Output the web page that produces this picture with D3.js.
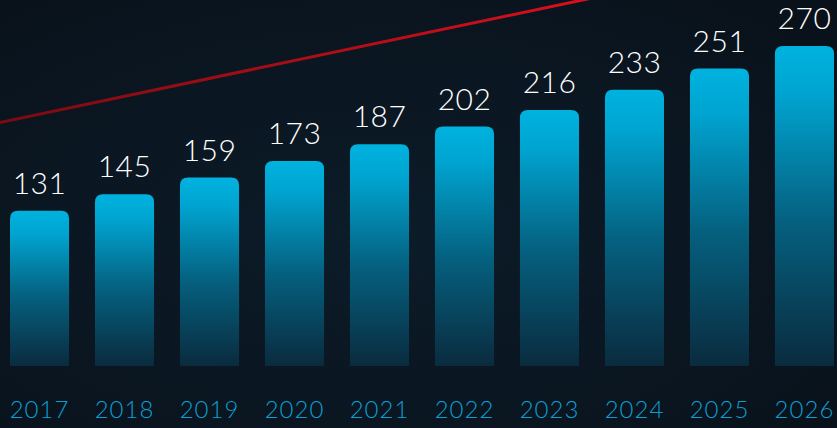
<!DOCTYPE html>
<html>
<head>
<meta charset="utf-8">
<script src="https://cdn.jsdelivr.net/npm/d3@7"></script>
<style>
  html, body { margin: 0; padding: 0; background: #0a141e; }
  svg { display: block; }
</style>
</head>
<body>
<svg id="chart" width="837" height="428"></svg>
<script>
// Data
const years = ["2017", "2018", "2019", "2020", "2021", "2022", "2023", "2024", "2025", "2026"];
const values = [131, 145, 159, 173, 187, 202, 216, 233, 251, 270];
// decorative red trend line, in value units at given year index
const trendIdx = [-0.5, 7.0];
const trendVal = [205, 318];

const width = 837, height = 428;
const svg = d3.select("#chart");

const defs = svg.append("defs");

// background glow
const bg = defs.append("radialGradient").attr("id", "bg")
    .attr("cx", "0.45").attr("cy", "0.55").attr("r", "0.7");
bg.append("stop").attr("offset", "0%").attr("stop-color", "#0c1c29");
bg.append("stop").attr("offset", "100%").attr("stop-color", "#09121b");
svg.append("rect").attr("width", width).attr("height", height).attr("fill", "url(#bg)");

// bar gradient
const grad = defs.append("linearGradient").attr("id", "barGrad")
    .attr("x1", 0).attr("y1", 0).attr("x2", 0).attr("y2", 1);
grad.append("stop").attr("offset", "0%").attr("stop-color", "#00b2df");
grad.append("stop").attr("offset", "15%").attr("stop-color", "#00a4d0");
grad.append("stop").attr("offset", "55%").attr("stop-color", "#05607f");
grad.append("stop").attr("offset", "100%").attr("stop-color", "#0a2b3e");

// red line gradient
const rg = defs.append("linearGradient").attr("id", "redGrad")
    .attr("x1", 0).attr("y1", 0).attr("x2", 1).attr("y2", 0);
rg.append("stop").attr("offset", "0%").attr("stop-color", "#7a0a12");
rg.append("stop").attr("offset", "100%").attr("stop-color", "#e0101c");

// Scales
const x = d3.scaleBand()
    .domain(years)
    .range([10, 834])
    .paddingInner(0.305)
    .paddingOuter(0.0);

const y = d3.scaleLinear()
    .domain([0, 270])
    .range([366, 46]);

const xIdx = i => x(years[0]) + x.step() * i + x.bandwidth() / 2;

// Red trend line
svg.append("path")
    .attr("d", d3.line()([
        [xIdx(trendIdx[0]), y(trendVal[0])],
        [xIdx(trendIdx[1]), y(trendVal[1])]
    ]))
    .attr("fill", "none")
    .attr("stroke", "url(#redGrad)")
    .attr("stroke-width", 3);

// Bars: rounded top corners, square bottom
const r = 8;
function barPath(x0, y0, w, y1) {
    return `M${x0},${y1}V${y0 + r}Q${x0},${y0} ${x0 + r},${y0}H${x0 + w - r}Q${x0 + w},${y0} ${x0 + w},${y0 + r}V${y1}Z`;
}

svg.append("g")
    .selectAll("path")
    .data(values)
    .join("path")
    .attr("d", (d, i) => barPath(x(years[i]), y(d), x.bandwidth(), y(0)))
    .attr("fill", "url(#barGrad)");

// Value labels
svg.append("g")
    .selectAll("text")
    .data(values)
    .join("text")
    .attr("x", (d, i) => x(years[i]) + x.bandwidth() / 2)
    .attr("y", d => y(d) - 17)
    .attr("text-anchor", "middle")
    .attr("fill", "#ffffff")
    .attr("font-family", "Lato, 'Open Sans', sans-serif")
    .attr("font-weight", 300)
    .attr("font-size", "30px")
    .attr("letter-spacing", "0.5px")
    .text(d => d);

// Year axis labels
const xAxis = d3.axisBottom(x).tickSize(0).tickPadding(0);
const ax = svg.append("g")
    .attr("transform", "translate(0,400)")
    .call(xAxis);
ax.select(".domain").remove();
ax.selectAll("text")
    .attr("fill", "#0a9fd2")
    .attr("font-family", "Lato, 'Open Sans', sans-serif")
    .attr("font-weight", 300)
    .attr("font-size", "24px")
    .attr("letter-spacing", "1px")
    .attr("dy", "0.75em");
</script>
</body>
</html>
